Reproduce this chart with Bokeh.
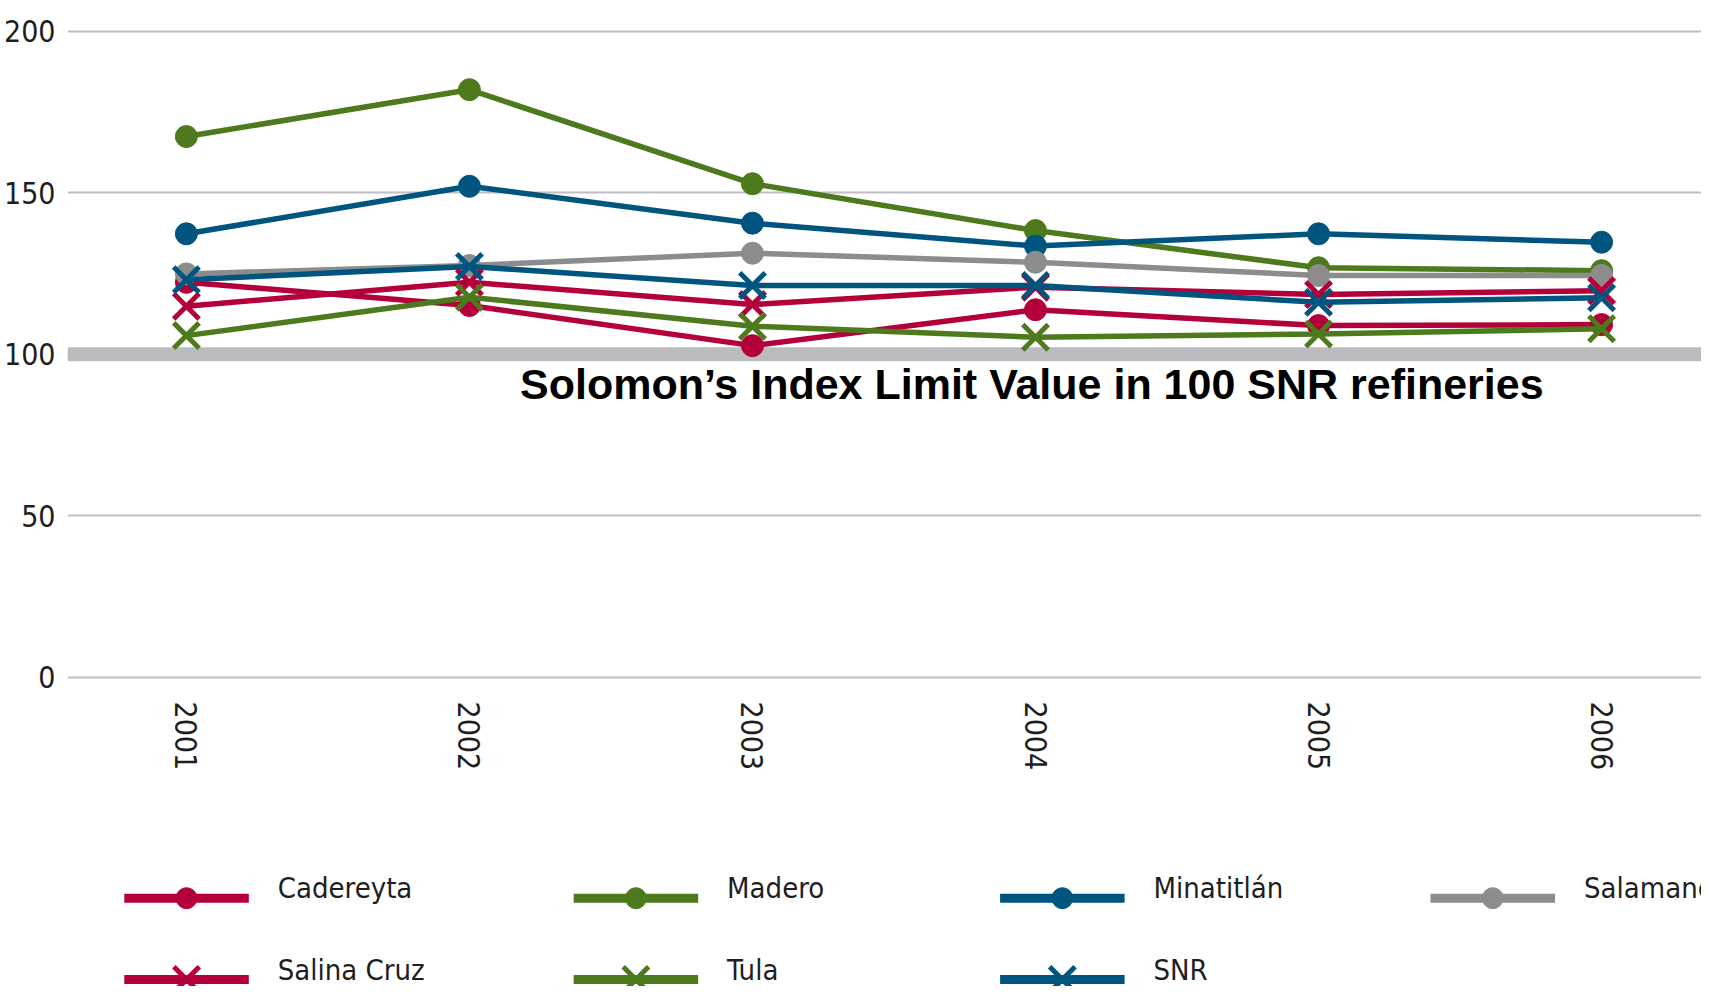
from bokeh.plotting import figure
from bokeh.layouts import column
from bokeh.models import Range1d, FixedTicker, Span, Label, ColumnDataSource
from bokeh.core.properties import value
from bokeh.embed import file_html
from bokeh.resources import INLINE

# ---------------- data ----------------
years = [2001, 2002, 2003, 2004, 2005, 2006]
year_labels = ["2001", "2002", "2003", "2004", "2005", "2006"]

cadereyta   = [122.3, 115.1, 102.7, 113.8, 108.9, 109.2]
madero      = [167.4, 181.9, 152.8, 138.3, 126.8, 125.9]
minatitlan  = [137.3, 152.0, 140.6, 133.5, 137.3, 134.7]
salamanca   = [124.9, 127.5, 131.3, 128.5, 124.4, 124.4]
salina_cruz = [114.9, 122.3, 115.4, 120.8, 118.5, 119.7]
tula        = [105.8, 117.7, 108.7, 105.3, 106.3, 107.9]
snr         = [123.1, 127.2, 121.3, 121.3, 116.1, 117.5]

series_names = ["Cadereyta", "Madero", "Minatitlán", "Salamanca",
                "Salina Cruz", "Tula", "SNR"]
series_values = [cadereyta, madero, minatitlan, salamanca,
                 salina_cruz, tula, snr]

y_ticks = [0, 50, 100, 150, 200]
limit_value = 100
limit_text = "Solomon’s Index Limit Value in 100 SNR refineries"

# ---------------- styles ----------------
RED = "#B4003A"
GREEN = "#4D7A1C"
BLUE = "#00557F"
GRAY = "#8C8C8C"
series_colors = [RED, GREEN, BLUE, GRAY, RED, GREEN, BLUE]
series_markers = ["circle", "circle", "circle", "circle", "x", "x", "x"]

NARROW = "DejaVu Sans Condensed, Roboto Condensed, Roboto, sans-serif"
LABEL_COLOR = "#1e1e1e"
GRID_COLOR = "#C0C0C4"
BAND_COLOR = "#BBBCC0"

W = 1701
LEFT = 61          # left border of both panels (frame starts at page x 69)
PAGE_X0 = 8        # page margin

# ---------------- main plot ----------------
p = figure(width=W, height=790, output_backend="svg", toolbar_location=None,
           x_range=Range1d(2000.58, 2006.353), y_range=Range1d(-1.55, 206.1),
           min_border_left=LEFT, min_border_right=0, min_border_top=11,
           min_border_bottom=108)
p.outline_line_color = None
p.background_fill_color = "white"
p.border_fill_color = "white"

p.xgrid.visible = False
p.ygrid.ticker = FixedTicker(ticks=y_ticks)
p.ygrid.grid_line_color = GRID_COLOR
p.ygrid.grid_line_width = 2

p.yaxis.ticker = FixedTicker(ticks=y_ticks)
p.yaxis.axis_line_color = None
p.yaxis.major_tick_line_color = None
p.yaxis.minor_tick_line_color = None
p.yaxis.major_label_text_font = NARROW
p.yaxis.major_label_text_font_size = "30px"
p.yaxis.major_label_text_color = LABEL_COLOR
p.yaxis.major_label_standoff = 6

p.xaxis.ticker = FixedTicker(ticks=years)
p.xaxis.major_label_overrides = {y: s for y, s in zip(years, year_labels)}
p.xaxis.axis_line_color = None
p.xaxis.major_tick_line_color = None
p.xaxis.minor_tick_line_color = None
p.xaxis.major_label_orientation = "vertical"
p.xaxis.major_label_text_font = NARROW
p.xaxis.major_label_text_font_size = "30px"
p.xaxis.major_label_text_color = LABEL_COLOR
p.xaxis.major_label_standoff = 13

band = Span(location=limit_value, dimension="width", line_color=BAND_COLOR,
            line_width=14, level="underlay")
p.add_layout(band)

for name, vals, col, mk in zip(series_names, series_values,
                               series_colors, series_markers):
    src = ColumnDataSource(dict(x=years, y=vals))
    p.line("x", "y", source=src, line_color=col, line_width=5.5)
    if mk == "circle":
        p.scatter("x", "y", source=src, marker="circle", size=22,
                  fill_color=col, line_color=col)
    else:
        p.scatter("x", "y", source=src, marker="x", size=36,
                  line_color=col, line_width=5)

p.add_layout(Label(x=2002.179, y=90.87, text=limit_text,
                   text_font="Liberation Sans, Arial, sans-serif",
                   text_font_style="bold",
                   text_font_size="43px", text_color="black",
                   text_baseline="middle", text_align="left"))

# ---------------- legend (separate panel, x in page pixels) ----------------
LH = 196
leg = figure(width=W, height=LH, output_backend="svg", toolbar_location=None,
             x_range=Range1d(PAGE_X0 + LEFT, PAGE_X0 + W),
             y_range=Range1d(LH, 0),
             x_axis_location=None, y_axis_location=None,
             min_border_left=LEFT, min_border_right=0,
             min_border_top=0, min_border_bottom=0)
leg.outline_line_color = None
leg.xgrid.visible = False
leg.ygrid.visible = False

col_starts = [126, 577, 1005, 1437]
row_centers = [107.7, 189.0]
seg_len = 125
text_gap = 154

for i, (name, col, mk) in enumerate(zip(series_names, series_colors,
                                        series_markers)):
    cx = col_starts[i % 4]
    cy = row_centers[i // 4]
    leg.line([cx, cx + seg_len], [cy, cy], line_color=col, line_width=9)
    if mk == "circle":
        leg.scatter([cx + seg_len / 2], [cy], marker="circle", size=21,
                    fill_color=col, line_color=col)
    else:
        leg.scatter([cx + seg_len / 2], [cy], marker="x", size=36,
                    line_color=col, line_width=5)
    leg.text([cx + text_gap], [cy - 10], text=[name],
             text_font=value(NARROW), text_font_size=value("29px"),
             text_color=LABEL_COLOR, text_baseline="middle",
             text_align="left")

layout = column(p, leg, spacing=0)
open("out.html", "w").write(file_html(layout, INLINE))
